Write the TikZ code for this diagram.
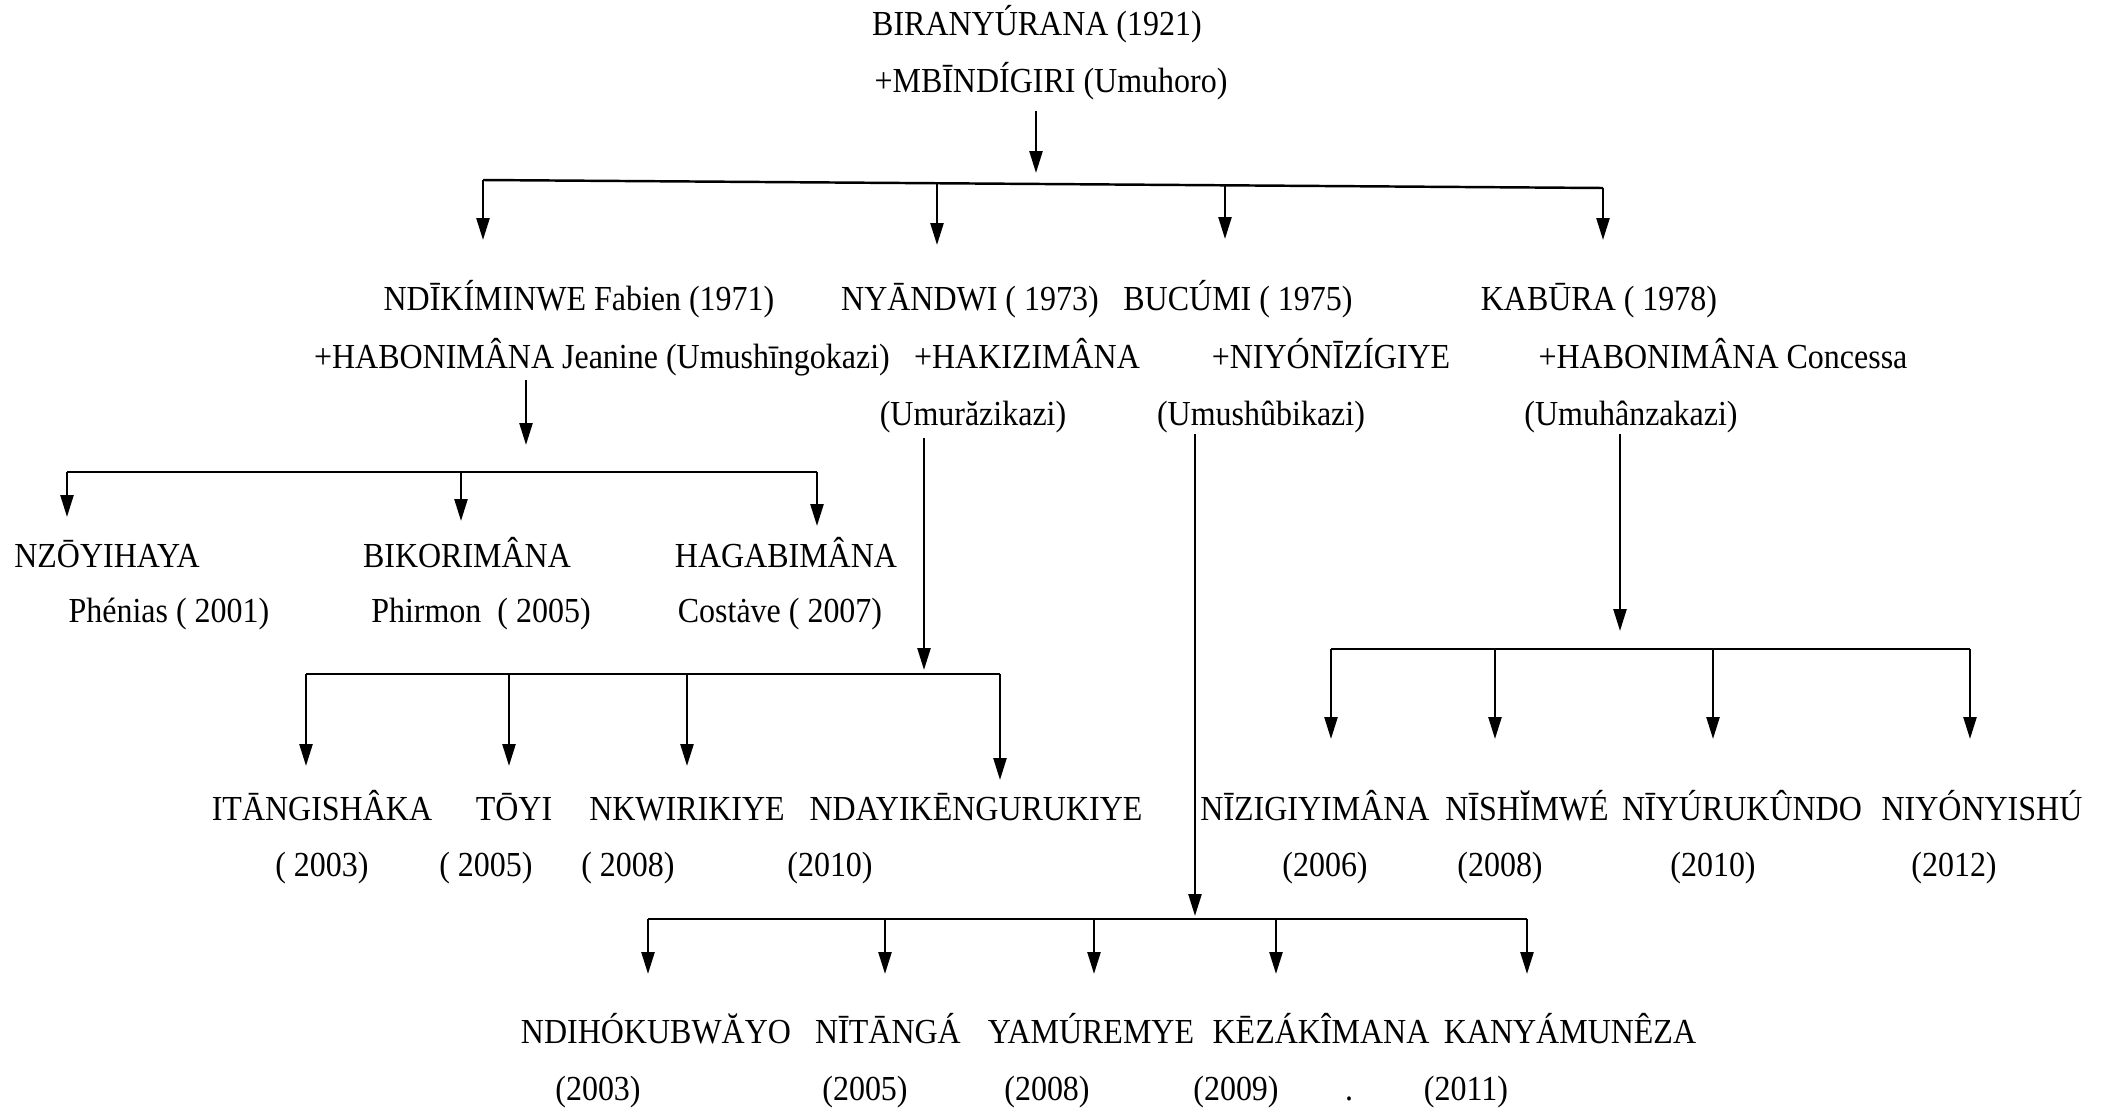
\documentclass[tikz,border=0pt]{standalone}
\usepackage{fontspec}
\setmainfont[FakeStretch=0.91]{Liberation Serif}
\usetikzlibrary{arrows.meta}
\tikzset{
  lbl/.style={inner sep=0pt, text height=6.6pt, text depth=0pt, font=\fontsize{10}{12}\selectfont},
  conn/.style={line width=0.7pt},
  arr/.style={conn, -{Triangle[length=2.2mm,width=1.3mm]}}
}
\begin{document}
\begin{tikzpicture}
\useasboundingbox (0,0) rectangle (21.15,-11.11);
% ---- root
\node[lbl] (root) at (10.37,-0.24) {BIRANYÚRANA (1921)};
\node[lbl] (rootw) at (10.51,-0.81) {+MBĪNDÍGIRI (Umuhoro)};
\coordinate (r0s) at (10.36,-1.11);
\coordinate (r0e) at (10.36,-1.73);
\draw[arr] (r0s) -- (r0e);
\coordinate (b0L) at (4.83,-1.80);
\coordinate (b0a) at (9.37,-1.832);
\coordinate (b0b) at (12.25,-1.853);
\coordinate (b0R) at (16.03,-1.88);
\draw[conn] (b0L) -- (b0R);
\coordinate (c0L) at (4.83,-2.40);
\coordinate (c0a) at (9.37,-2.45);
\coordinate (c0b) at (12.25,-2.39);
\coordinate (c0R) at (16.03,-2.40);
\draw[arr] (b0L) -- (c0L);
\draw[arr] (b0a) -- (c0a);
\draw[arr] (b0b) -- (c0b);
\draw[arr] (b0R) -- (c0R);
% ---- generation 2
\node[lbl] (ndk) at (5.79,-2.99) {NDĪKÍMINWE Fabien (1971)};
\node[lbl] (nya) at (9.70,-2.99) {NYĀNDWI ( 1973)};
\node[lbl] (buc) at (12.38,-2.99) {BUCÚMI ( 1975)};
\node[lbl] (kab) at (15.99,-2.99) {KABŪRA ( 1978)};
\node[lbl] (ndkw) at (6.02,-3.57) {+HABONIMÂNA Jeanine (Umushīngokazi)};
\node[lbl] (nyaw) at (10.27,-3.57) {+HAKIZIMÂNA};
\node[lbl] (bucw) at (13.31,-3.57) {+NIYÓNĪZÍGIYE};
\node[lbl] (kabw) at (17.23,-3.57) {+HABONIMÂNA Concessa};
\node[lbl] (nyac) at (9.73,-4.14) {(Umurăzikazi)};
\node[lbl] (bucc) at (12.61,-4.14) {(Umushûbikazi)};
\node[lbl] (kabc) at (16.31,-4.14) {(Umuhânzakazi)};
% ---- Ndikiminwe family
\coordinate (k1s) at (5.26,-3.80);
\coordinate (k1e) at (5.26,-4.45);
\draw[arr] (k1s) -- (k1e);
\coordinate (b1L) at (0.67,-4.72);
\coordinate (b1a) at (4.61,-4.72);
\coordinate (b1R) at (8.17,-4.72);
\draw[conn] (b1L) -- (b1R);
\coordinate (c1L) at (0.67,-5.17);
\coordinate (c1a) at (4.61,-5.21);
\coordinate (c1R) at (8.17,-5.26);
\draw[arr] (b1L) -- (c1L);
\draw[arr] (b1a) -- (c1a);
\draw[arr] (b1R) -- (c1R);
\node[lbl] (nz) at (1.07,-5.56) {NZŌYIHAYA};
\node[lbl] (bk) at (4.67,-5.56) {BIKORIMÂNA};
\node[lbl] (hg) at (7.86,-5.56) {HAGABIMÂNA};
\node[lbl] (nzy) at (1.69,-6.11) {Phénias ( 2001)};
\node[lbl] (bky) at (4.81,-6.11) {Phirmon\ \ ( 2005)};
\node[lbl] (hgy) at (7.80,-6.11) {Costȧve ( 2007)};
% ---- Nyandwi family
\coordinate (k2s) at (9.24,-4.38);
\coordinate (k2e) at (9.24,-6.70);
\draw[arr] (k2s) -- (k2e);
\coordinate (b2L) at (3.06,-6.74);
\coordinate (b2a) at (5.09,-6.74);
\coordinate (b2b) at (6.87,-6.74);
\coordinate (b2R) at (10.00,-6.74);
\draw[conn] (b2L) -- (b2R);
\coordinate (c2L) at (3.06,-7.66);
\coordinate (c2a) at (5.09,-7.66);
\coordinate (c2b) at (6.87,-7.66);
\coordinate (c2R) at (10.00,-7.80);
\draw[arr] (b2L) -- (c2L);
\draw[arr] (b2a) -- (c2a);
\draw[arr] (b2b) -- (c2b);
\draw[arr] (b2R) -- (c2R);
\node[lbl] (it) at (3.22,-8.09) {ITĀNGISHÂKA};
\node[lbl] (to) at (5.14,-8.09) {TŌYI};
\node[lbl] (nk) at (6.87,-8.09) {NKWIRIKIYE};
\node[lbl] (nd) at (9.76,-8.09) {NDAYIKĒNGURUKIYE};
\node[lbl] (ity) at (3.22,-8.65) {( 2003)};
\node[lbl] (toy) at (4.86,-8.65) {( 2005)};
\node[lbl] (nky) at (6.28,-8.65) {( 2008)};
\node[lbl] (ndy) at (8.30,-8.65) {(2010)};
% ---- Bucumi family
\coordinate (k3s) at (11.95,-4.34);
\coordinate (k3e) at (11.95,-9.16);
\draw[arr] (k3s) -- (k3e);
\coordinate (b3L) at (6.48,-9.19);
\coordinate (b3a) at (8.85,-9.19);
\coordinate (b3b) at (10.94,-9.19);
\coordinate (b3c) at (12.76,-9.19);
\coordinate (b3R) at (15.27,-9.19);
\draw[conn] (b3L) -- (b3R);
\coordinate (c3L) at (6.48,-9.74);
\coordinate (c3a) at (8.85,-9.74);
\coordinate (c3b) at (10.94,-9.74);
\coordinate (c3c) at (12.76,-9.74);
\coordinate (c3R) at (15.27,-9.74);
\draw[arr] (b3L) -- (c3L);
\draw[arr] (b3a) -- (c3a);
\draw[arr] (b3b) -- (c3b);
\draw[arr] (b3c) -- (c3c);
\draw[arr] (b3R) -- (c3R);
\node[lbl] (nh) at (6.56,-10.32) {NDIHÓKUBWĂYO};
\node[lbl] (nt) at (8.88,-10.32) {NĪTĀNGÁ};
\node[lbl] (ym) at (10.91,-10.32) {YAMÚREMYE};
\node[lbl] (kz) at (13.21,-10.32) {KĒZÁKÎMANA};
\node[lbl] (ky) at (15.70,-10.32) {KANYÁMUNÊZA};
\node[lbl] (nhy) at (5.98,-10.89) {(2003)};
\node[lbl] (nty) at (8.65,-10.89) {(2005)};
\node[lbl] (ymy) at (10.47,-10.89) {(2008)};
\node[lbl] (kzy) at (12.36,-10.89) {(2009)};
\node[lbl] (dot) at (13.49,-10.89) {.};
\node[lbl] (kyy) at (14.66,-10.89) {(2011)};
% ---- Kabura family
\coordinate (k4s) at (16.20,-4.34);
\coordinate (k4e) at (16.20,-6.31);
\draw[arr] (k4s) -- (k4e);
\coordinate (b4L) at (13.31,-6.49);
\coordinate (b4a) at (14.95,-6.49);
\coordinate (b4b) at (17.13,-6.49);
\coordinate (b4R) at (19.70,-6.49);
\draw[conn] (b4L) -- (b4R);
\coordinate (c4L) at (13.31,-7.39);
\coordinate (c4a) at (14.95,-7.39);
\coordinate (c4b) at (17.13,-7.39);
\coordinate (c4R) at (19.70,-7.39);
\draw[arr] (b4L) -- (c4L);
\draw[arr] (b4a) -- (c4a);
\draw[arr] (b4b) -- (c4b);
\draw[arr] (b4R) -- (c4R);
\node[lbl] (nzg) at (13.15,-8.09) {NĪZIGIYIMÂNA};
\node[lbl] (ns) at (15.27,-8.09) {NĪSHĬMWÉ};
\node[lbl] (nyu) at (17.42,-8.09) {NĪYÚRUKÛNDO};
\node[lbl] (nyi) at (19.82,-8.09) {NIYÓNYISHÚ};
\node[lbl] (nzgy) at (13.25,-8.65) {(2006)};
\node[lbl] (nsy) at (15.00,-8.65) {(2008)};
\node[lbl] (nyuy) at (17.13,-8.65) {(2010)};
\node[lbl] (nyiy) at (19.54,-8.65) {(2012)};
\end{tikzpicture}
\end{document}
